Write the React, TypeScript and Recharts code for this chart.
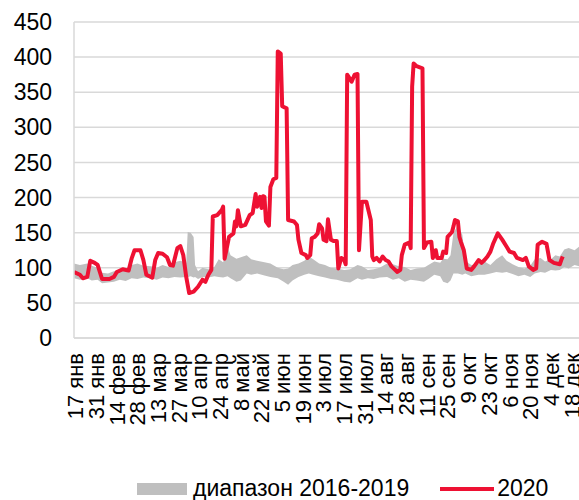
import React from "react";
import { ComposedChart, Area, Line, XAxis, YAxis, CartesianGrid, Legend } from "recharts";

// day of year (2020) for each tick and its label
const tickDays = [17, 31, 45, 59, 73, 87, 101, 115, 129, 143, 157, 171, 185, 199, 213, 227, 241, 255, 269, 283, 297, 311, 325, 339, 353];
const tickLabels = [
  "17 янв", "31 янв", "14 фев", "28 фев", "13 мар", "27 мар", "10 апр", "24 апр", "8 май", "22 май",
  "5 июн", "19 июн", "3 июл", "17 июл", "31 июл", "14 авг", "28 авг", "11 сен", "25 сен", "9 окт",
  "23 окт", "6 ноя", "20 ноя", "4 дек", "18 дек",
];
const yTicks = [0, 50, 100, 150, 200, 250, 300, 350, 400, 450];

// 2020 series
const days2020 = [
  16, 20, 22, 25, 27, 30, 32, 35, 40, 43, 45, 49, 53, 55, 57, 61, 63, 65, 69, 71, 73, 76, 79, 81, 83, 86, 88, 90, 92, 94,
  97, 100, 103, 105, 107, 109, 110, 113, 116, 117, 118, 121, 124, 125, 126, 127, 129, 132, 135, 137, 139, 140, 142, 143,
  144, 145, 146, 148, 149, 151, 153, 154, 156, 157, 160, 161, 165, 167, 168, 170, 173, 174, 176, 177, 179, 181, 182, 184,
  185, 187, 188, 190, 192, 194, 195, 197, 199, 200, 201, 204, 206, 208, 209, 211, 214, 217, 218, 219, 221, 223, 225, 227,
  229, 231, 235, 237, 238, 240, 243, 244, 245, 246, 248, 252, 253, 255, 258, 259, 261, 262, 265, 266, 268, 269, 272, 273,
  274, 276, 277, 278, 280, 282, 285, 287, 290, 292, 294, 296, 298, 300, 303, 306, 309, 311, 314, 316, 320, 322, 324, 327,
  329, 330, 333, 336, 338, 341, 345, 346, 347,
];
const values2020 = [
  94, 90, 85, 87, 110, 107, 104, 84, 84, 87, 94, 98, 96, 113, 125, 125, 111, 90, 86, 111, 121, 120, 115, 104, 103, 128, 131, 118, 87, 64,
  66, 73, 83, 80, 90, 97, 173, 175, 182, 187, 113, 144, 149, 166, 159, 182, 159, 161, 175, 178, 205, 187, 201, 185,
  202, 201, 166, 160, 215, 226, 228, 408, 405, 330, 327, 168, 166, 161, 140, 121, 118, 114, 118, 142, 144, 149, 162, 156,
  140, 138, 169, 140, 138, 138, 99, 114, 111, 105, 375, 365, 375, 376, 125, 194, 194, 168, 116, 111, 114, 109, 116, 111,
  109, 102, 94, 97, 118, 133, 136, 128, 358, 391, 387, 384, 128, 136, 137, 114, 125, 114, 114, 123, 121, 144, 151, 159,
  168, 166, 144, 137, 125, 99, 97, 102, 111, 107, 111, 116, 123, 135, 149, 140, 130, 123, 121, 114, 111, 114, 102, 97,
  99, 133, 137, 134, 111, 107, 105, 111, 116,
];

// 2016-2019 range
const rangeDays = [
  16, 20, 25, 28, 32, 35, 39, 43, 47, 51, 55, 59, 63, 68, 72, 76, 80, 84, 88, 92, 93, 95, 97, 98, 100, 103, 107, 111, 114,
  117, 120, 122, 126, 129, 133, 136, 140, 145, 149, 154, 158, 161, 164, 168, 172, 175, 178, 182, 186, 190, 194, 199, 203,
  208, 211, 215, 219, 223, 228, 232, 236, 240, 244, 248, 253, 256, 260, 264, 266, 269, 271, 273, 276, 279, 281, 285, 290,
  294, 298, 302, 306, 309, 313, 317, 321, 325, 328, 332, 335, 339, 342, 345, 348, 351, 355, 358,
];
const rangeLow = [
  85, 83, 85, 82, 83, 78, 79, 80, 83, 81, 85, 84, 86, 85, 83, 86, 85, 87, 86, 87, 87, 88, 86, 87, 84, 87, 86, 88, 87,
  86, 88, 85, 80, 82, 92, 90, 92, 89, 87, 85, 80, 76, 82, 87, 90, 92, 90, 88, 86, 84, 83, 80, 79,
  85, 83, 85, 84, 86, 87, 83, 85, 80, 83, 82, 80, 84, 90, 88, 80, 78, 82, 92, 92, 90, 92, 88, 90,
  90, 92, 94, 93, 94, 91, 88, 90, 87, 92, 94, 93, 97, 96, 97, 101, 99, 104, 102,
];
const rangeHigh = [
  106, 104, 106, 103, 100, 93, 92, 95, 97, 98, 104, 106, 103, 102, 100, 104, 101, 108, 110, 107, 151, 150, 144, 104, 95, 100, 98, 101, 112,
  108, 130, 118, 113, 115, 118, 112, 110, 108, 106, 100, 98, 99, 104, 106, 110, 116, 112, 106, 104, 100, 99, 97, 98,
  104, 102, 97, 98, 100, 106, 105, 102, 101, 97, 99, 100, 104, 109, 107, 113, 112, 118, 150, 161, 147, 110, 104, 106,
  109, 104, 112, 118, 110, 105, 101, 99, 103, 112, 114, 109, 112, 118, 116, 126, 128, 125, 130,
];

const lineData = days2020.map((day, i) => ({ day, value: values2020[i] }));
const rangeData = rangeDays.map((day, i) => ({ day, range: [rangeLow[i], rangeHigh[i]] }));

const FONT = '"Liberation Sans", Arial, sans-serif';
const GREY = "#BFBFBF";
const RED = "#EE1133";

const XTick = (props: any) => {
  const { x, y, payload } = props;
  const label = tickLabels[tickDays.indexOf(payload.value)];
  return (
    <text
      x={x}
      y={y}
      transform={`rotate(-90, ${x}, ${y})`}
      textAnchor="end"
      dy="0.36em"
      fontSize={22}
      fontFamily={FONT}
      fill="#000"
    >
      {label}
    </text>
  );
};

const renderLegend = () => (
  <div style={{ display: "flex", alignItems: "center", paddingTop: 17, paddingLeft: 137, fontFamily: FONT, fontSize: 23, lineHeight: "23px", color: "#000" }}>
    <span style={{ display: "inline-block", width: 50, height: 12, background: GREY, marginRight: 6 }} />
    <span>диапазон 2016-2019</span>
    <span style={{ display: "inline-block", width: 54, height: 4, background: RED, marginLeft: 31, marginRight: 3 }} />
    <span>2020</span>
  </div>
);

export default function App() {
  return (
    <div style={{ position: "absolute", left: 0, top: 0, width: 579, height: 500, background: "#fff" }}>
      <ComposedChart width={579} height={500} margin={{ top: 22, right: 0, bottom: 0, left: 0 }}>
        <CartesianGrid vertical={false} stroke="#D9D9D9" strokeWidth={1.5} />
        <XAxis
          type="number"
          dataKey="day"
          domain={[16, 358]}
          ticks={tickDays}
          allowDataOverflow
          interval={0}
          tick={<XTick />}
          tickLine={false}
          tickSize={0}
          tickMargin={15}
          axisLine={{ stroke: "#D9D9D9", strokeWidth: 1.5 }}
          height={122}
        />
        <YAxis
          domain={[0, 450]}
          ticks={yTicks}
          interval={0}
          width={74}
          tickLine={false}
          tickSize={0}
          tickMargin={22}
          axisLine={{ stroke: "#D9D9D9", strokeWidth: 1.5 }}
          tick={{ fontSize: 23, fontFamily: FONT, fill: "#000" }}
        />
        <Area
          data={rangeData}
          dataKey="range"
          type="linear"
          stroke="none"
          fill={GREY}
          fillOpacity={1}
          isAnimationActive={false}
        />
        <Line
          data={lineData}
          dataKey="value"
          type="linear"
          stroke={RED}
          strokeWidth={4}
          strokeLinejoin="round"
          dot={false}
          isAnimationActive={false}
        />
        <Legend verticalAlign="bottom" height={40} content={renderLegend} wrapperStyle={{ height: 40 }} />
      </ComposedChart>
    </div>
  );
}
